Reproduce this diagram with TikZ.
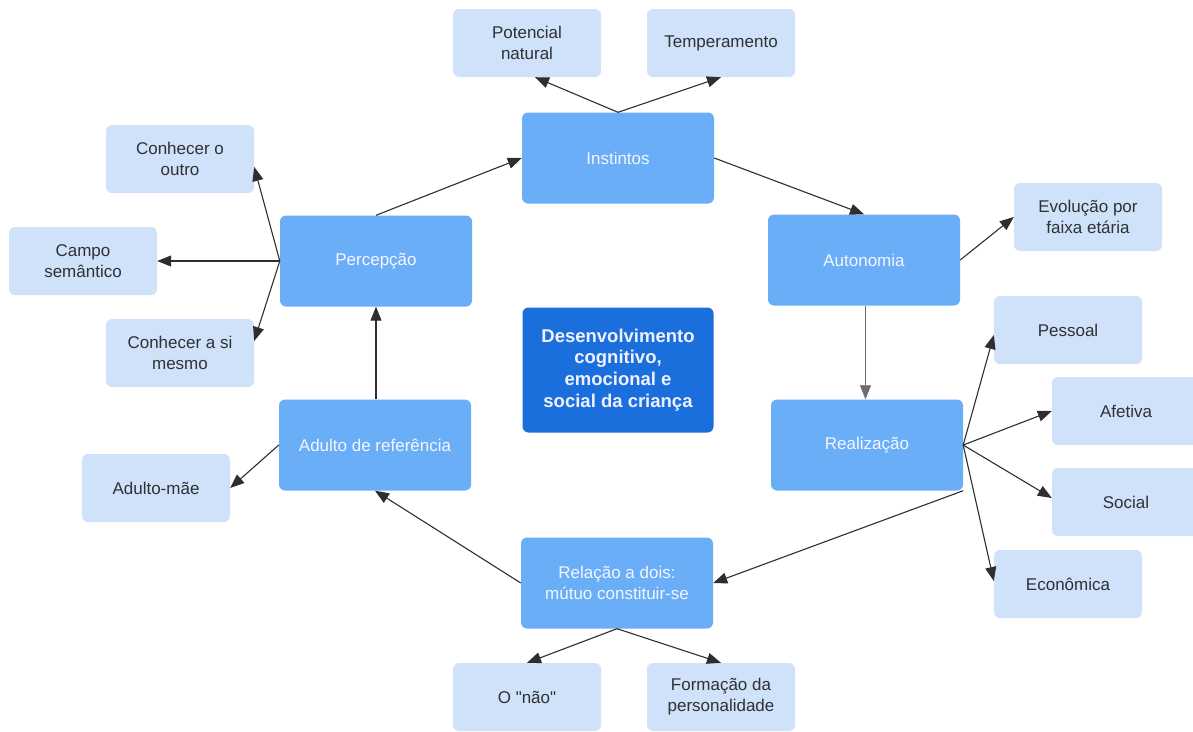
\documentclass[tikz,border=0pt]{standalone}
\usepackage{fontspec}
\setmainfont{Liberation Sans}
\newfontfamily\plainq{Liberation Sans}[Ligatures=TeXOff]
\usetikzlibrary{arrows.meta}
\definecolor{leafc}{HTML}{CFE2FA}
\definecolor{midc}{HTML}{6AAEF8}
\definecolor{corec}{HTML}{1A6FDC}
\definecolor{txtd}{HTML}{2F3135}
\definecolor{linec}{HTML}{2E2E2E}
\begin{document}
\begin{tikzpicture}[x=1pt,y=-1pt,
  box/.style={rectangle,rounded corners=6pt,align=center,inner sep=0pt,
    font=\fontsize{17}{21}\selectfont},
  leaf/.style={box,fill=leafc,text=txtd,minimum width=148pt,minimum height=68pt},
  mid/.style={box,fill=midc,text=white!96!blue,minimum width=192pt,minimum height=91pt},
  core/.style={box,fill=corec,text=white!94!blue,minimum width=191pt,minimum height=125pt,
    font=\fontsize{18.5}{21.7}\selectfont\bfseries},
  arr/.style={draw=linec,line width=1.1pt,-{Triangle[length=14pt,width=11pt]}},
  thin/.style={draw=linec!70,line width=0.7pt,-{Triangle[length=14pt,width=11pt]}}]
\useasboundingbox (0,0) rectangle (1193,731);
% nodes
\node[leaf] (pot) at (527,43) {Potencial\\natural};
\node[leaf] (temp) at (721,43) {Temperamento};
\node[mid] (inst) at (618,158) {Instintos};
\node[leaf] (co) at (180,159) {Conhecer o\\outro};
\node[leaf] (campo) at (83,261) {Campo\\semântico};
\node[mid] (perc) at (376,261) {Percepção};
\node[leaf] (csi) at (180,353) {Conhecer a si\\mesmo};
\node[mid] (auto) at (864,260) {Autonomia};
\node[leaf] (evo) at (1088,217) {Evolução por\\faixa etária};
\node[leaf] (pess) at (1068,330) {Pessoal};
\node[leaf] (afe) at (1126,411) {Afetiva};
\node[leaf] (soc) at (1126,502) {Social};
\node[leaf] (eco) at (1068,584) {Econômica};
\node[mid] (real) at (867,445) {Realização};
\node[core] (core) at (618,370) {Desenvolvimento\\cognitivo,\\emocional e\\social da criança};
\node[mid] (adref) at (375,445) {Adulto de referência};
\node[leaf] (mae) at (156,488) {Adulto-mãe};
\node[mid] (rel) at (617,583) {Relação a dois:\\mútuo constituir-se};
\node[leaf] (nao) at (527,697) {\plainq O "não"};
\node[leaf] (form) at (721,697) {Formação da\\personalidade};
% connectors
\draw[arr] (inst.north) -- ([xshift=8pt]pot.south);
\draw[arr] (inst.north) -- (temp.south);
\draw[arr] (perc.north) -- (inst.west);
\draw[arr] (inst.east) -- (auto.north);
\draw[thin] ([xshift=1.5pt]auto.south) -- ([xshift=1.5pt]auto.south |- real.north);
\draw[arr] (auto.east) -- (evo.west);
\draw[arr] (real.east) -- ([yshift=-5pt]pess.west);
\draw[arr] (real.east) -- (afe.west);
\draw[arr] (real.east) -- ([yshift=4pt]soc.west);
\draw[arr] (real.east) -- ([yshift=3pt]eco.west);
\draw[arr] (real.south east) -- (rel.east);
\draw[arr] (rel.west) -- (adref.south);
\draw[arr] (adref.west) -- (mae.east);
\draw[arr] (perc.south |- adref.north) -- (perc.south);
\draw[arr] (perc.west) -- ([yshift=-8pt]co.east);
\draw[arr] (perc.west) -- (campo.east);
\draw[arr] (perc.west) -- ([yshift=12pt]csi.east);
\draw[arr] (rel.south) -- (nao.north);
\draw[arr] (rel.south) -- (form.north);
\end{tikzpicture}
\end{document}
